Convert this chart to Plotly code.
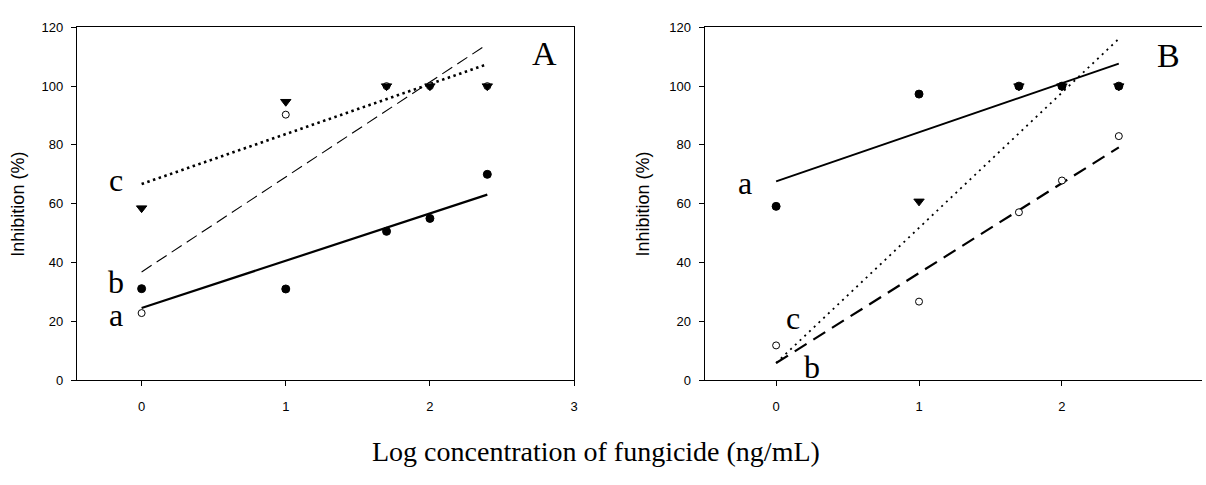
import plotly.graph_objects as go

W, H = 1206, 485

# x values: log10 of concentrations 1, 10, 50, 100, 250 ng/mL
log_conc = [0, 1, 1.699, 2, 2.398]

# Panel A
A_filled = [31.1, 31.0, 50.6, 55.0, 70.0]
A_open = [22.8, 90.3, 100, 100, 100]
A_tri = [58.5, 94.7, 100, 100, 100]
# regression lines: (intercept, slope)
A_fit_filled = (24.5, 16.1)
A_fit_open = (36.8, 32.3)
A_fit_tri = (66.7, 17.0)

# Panel B
B_filled = [59.1, 97.3, 100, 100, 100]
B_open = [11.8, 26.7, 57.1, 67.9, 83.0]
B_tri = [None, 60.8, 100, 100, 100]
B_fit_filled = (67.6, 16.7)
B_fit_open = (5.8, 30.6)
B_fit_tri = (5.8, 46.0)

fit_x = [log_conc[0], log_conc[-1]]

y_ticks = [0, 20, 40, 60, 80, 100, 120]
x_ticks = [0, 1, 2, 3]

fig = go.Figure()


def fit_line(fit, xa, ya, dash, width):
    b0, b1 = fit
    fig.add_trace(go.Scatter(
        x=fit_x, y=[b0 + b1 * x for x in fit_x], mode="lines",
        line=dict(color="black", width=width, dash=dash),
        xaxis=xa, yaxis=ya, showlegend=False, hoverinfo="skip"))


def markers(ys, xa, ya, symbol, size, filled):
    fig.add_trace(go.Scatter(
        x=log_conc, y=ys, mode="markers",
        marker=dict(symbol=symbol, size=size,
                    color="black" if filled else "white",
                    line=dict(color="black", width=1)),
        xaxis=xa, yaxis=ya, showlegend=False))


# Panel A
fit_line(A_fit_filled, "x", "y", "solid", 2.2)
fit_line(A_fit_open, "x", "y", "12px,6px", 1.1)
fit_line(A_fit_tri, "x", "y", "2.5px,3.5px", 2.6)
markers(A_filled, "x", "y", "circle", 8, True)
markers(A_open, "x", "y", "circle", 7, False)
markers(A_tri, "x", "y", "triangle-down", 9, True)

# Panel B
fit_line(B_fit_filled, "x2", "y2", "solid", 2.0)
fit_line(B_fit_open, "x2", "y2", "14px,8px", 2.2)
fit_line(B_fit_tri, "x2", "y2", "2px,4.5px", 1.8)
markers(B_filled, "x2", "y2", "circle", 8, True)
markers(B_open, "x2", "y2", "circle", 7, False)
markers(B_tri, "x2", "y2", "triangle-down", 9, True)

tickfont = dict(family="Liberation Sans, Arial", size=13, color="black")
ydom = [(H - 385) / H, (H - 21) / H]

common_x = dict(tickvals=x_ticks, ticks="outside", ticklen=5, tickcolor="black",
                showline=True, linecolor="black", linewidth=1, mirror=True,
                showgrid=False, zeroline=False, tickfont=tickfont,
                ticklabelstandoff=9)
common_y = dict(tickvals=y_ticks, range=[0, 120], ticks="outside", ticklen=5,
                tickcolor="black", showline=True, linecolor="black", linewidth=1,
                showgrid=False, zeroline=False, tickfont=tickfont, domain=ydom,
                ticklabelstandoff=5)

fig.update_layout(
    width=W, height=H,
    margin=dict(l=0, r=0, t=0, b=0),
    paper_bgcolor="white", plot_bgcolor="white",
    xaxis=dict(domain=[77 / W, 576 / W], range=[-0.45, 3], anchor="y", **common_x),
    yaxis=dict(anchor="x", mirror=True, **common_y),
    xaxis2=dict(domain=[707 / W, 1], range=[-0.5, 2.98], anchor="y2", **common_x),
    yaxis2=dict(anchor="x2", mirror=False, **common_y),
)

serif = "Liberation Serif, Times New Roman, serif"
sans = "Liberation Sans, Arial"
ann = []


def pann(text, px, py, font, **kw):
    ann.append(dict(text=text, x=px / W, y=(H - py) / H, xref="paper", yref="paper",
                    xanchor="center", yanchor="middle", showarrow=False, font=font, **kw))


# axis titles
pann("Inhibition (%)", 18, 203, dict(family=sans, size=18, color="black"), textangle=-90)
pann("Inhibition (%)", 645, 203, dict(family=sans, size=18, color="black"), textangle=-90)
pann("Log concentration of fungicide (ng/mL)", 598, 459, dict(family=serif, size=28, color="black"))
# panel letters
pann("A", 546, 48, dict(family=serif, size=34, color="black"))
pann("B", 1172, 50, dict(family=serif, size=34, color="black"))

# series labels
lab = dict(showarrow=False, xanchor="center", yanchor="middle",
           font=dict(family=serif, size=32, color="black"))
ann.append(dict(text="c", x=-0.178, y=68, xref="x", yref="y", **lab))
ann.append(dict(text="b", x=-0.178, y=33.3, xref="x", yref="y", **lab))
ann.append(dict(text="a", x=-0.178, y=22.1, xref="x", yref="y", **lab))
ann.append(dict(text="a", x=-0.22, y=67, xref="x2", yref="y2", **lab))
ann.append(dict(text="c", x=0.12, y=21, xref="x2", yref="y2", **lab))
ann.append(dict(text="b", x=0.25, y=4.3, xref="x2", yref="y2", **lab))
fig.update_layout(annotations=ann)

fig.write_html("out.html")
